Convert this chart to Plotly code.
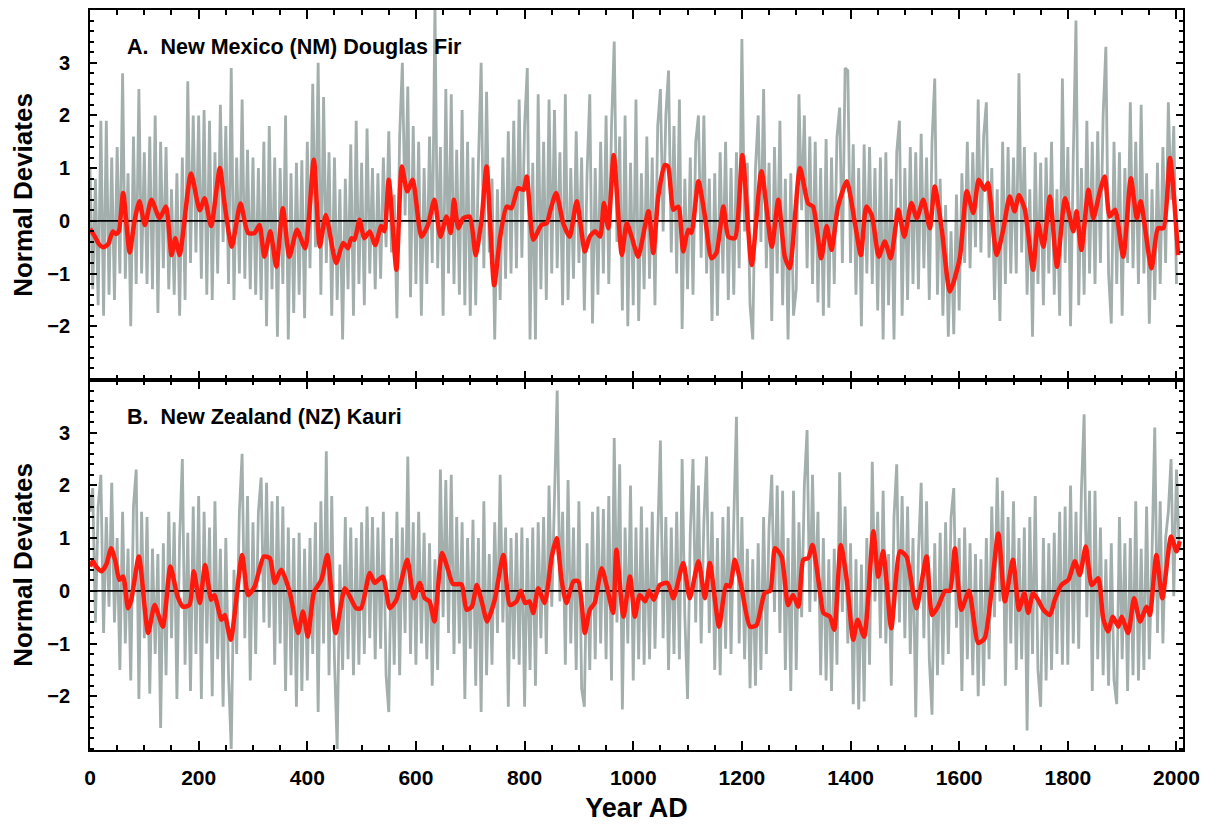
import plotly.graph_objects as go
from plotly.subplots import make_subplots

# ---------------- data ----------------
RING_STEP_YEARS = 5  # annual series sampled every 5 years (peaks / troughs)

NM_RING = [
    1.0,-1.3,0.8,-1.6,1.9,-1.8,1.9,-1.4,1.2,-1.5,1.4,-1.0,2.8,-1.1,0.9,-2.0,1.6,-1.2,2.5,-1.0,
    1.3,-1.2,1.6,-1.3,2.0,-1.75,1.5,-0.9,1.4,-1.3,0.6,-1.4,0.9,-1.8,1.2,-1.5,2.65,-0.8,2.0,-0.6,
    2.0,-1.1,2.1,-1.4,1.9,-1.5,1.3,-1.0,2.2,-0.4,1.8,-1.2,2.9,-1.5,1.2,-1.0,2.3,-1.1,1.35,-1.3,
    1.2,-1.4,1.0,-1.5,1.5,-2.0,1.8,-1.3,1.2,-2.2,1.0,-1.2,2.0,-2.25,0.9,-1.75,1.1,-1.4,1.15,-1.85,
    1.5,-0.9,2.6,-0.5,3.0,-1.4,2.35,-0.8,1.3,-1.8,1.2,-1.5,0.6,-2.25,0.8,-1.3,1.45,-1.8,1.9,-1.2,
    1.1,-1.6,1.75,-1.0,1.0,-1.3,0.9,-1.1,1.2,-0.5,1.7,-0.6,0.5,-1.85,1.6,3.0,0.1,2.55,-1.45,1.8,
    -1.2,1.5,-1.8,1.0,-1.2,1.6,-0.8,4.1,-0.9,1.4,-1.8,2.5,-1.0,2.4,-1.2,1.35,-1.4,2.1,-1.6,1.5,
    -1.8,1.2,-1.6,1.1,3.0,-0.9,2.45,-0.6,0.8,-2.25,0.6,-1.5,1.2,-1.1,1.7,-1.0,1.9,-0.9,2.3,-0.7,
    1.8,2.9,-2.25,1.1,-2.25,2.4,-1.3,1.5,-1.5,2.3,-1.0,2.1,-0.9,1.3,-1.6,2.4,-1.5,1.0,-1.1,1.7,
    -0.8,1.2,-1.7,0.9,2.4,-1.95,1.0,-1.4,1.5,-1.0,2.0,-1.2,1.8,3.4,-0.4,1.6,-1.7,2.0,-2.0,1.1,
    -1.6,2.3,-1.9,0.9,-1.3,1.6,-1.1,1.2,-1.6,1.8,2.5,-0.2,2.0,2.85,-0.6,1.8,-1.0,2.3,-2.05,0.8,
    -1.3,1.2,-1.4,1.5,2.0,-0.7,2.0,-1.0,0.8,-1.9,0.9,-1.8,1.3,-1.0,1.5,-1.5,1.0,-1.4,1.3,-0.9,
    3.45,-0.2,1.1,-1.6,-2.25,1.0,2.0,-0.4,2.5,-0.9,1.1,-1.9,1.4,-1.0,1.9,-1.6,0.8,-2.25,0.9,-1.8,
    -1.3,2.4,0.2,2.0,-0.9,1.6,-1.2,1.5,-1.55,1.0,-1.8,1.55,-1.65,1.2,-1.2,1.6,2.15,-0.8,2.9,2.85,
    -0.8,1.45,-1.4,1.0,-2.0,1.45,-1.0,1.4,-1.2,1.0,-1.7,1.2,-2.25,1.3,-1.6,0.8,-2.25,1.3,1.9,-1.8,
    1.0,-1.5,1.4,-1.2,1.3,-1.3,1.65,-0.9,1.2,-1.5,1.5,2.7,-1.4,0.8,-1.8,0.3,-2.2,-0.2,-2.15,0.5,
    -1.7,0.9,-0.8,1.5,-0.9,1.3,-0.5,2.3,-0.6,1.6,2.25,-0.7,1.0,-1.5,0.6,-1.9,1.5,-1.2,1.4,-1.0,
    1.2,-1.0,2.8,-0.6,1.4,-1.4,0.6,-2.2,1.3,-1.2,1.1,-1.6,1.2,-1.0,1.5,-1.4,0.6,-1.8,2.7,-0.8,
    1.4,-2.0,1.2,3.8,-1.6,1.0,-1.4,1.9,-1.0,1.5,-1.2,1.7,-0.8,2.0,3.3,-1.0,-1.95,1.5,-1.2,1.3,
    -1.8,1.0,-0.8,2.25,-0.9,1.5,-1.2,2.2,-1.0,0.9,-1.95,0.6,-1.5,1.1,-1.2,1.4,-0.8,2.25,0.4,1.8,-1.2,
]

NZ_RING = [
    1.5,1.95,-0.6,1.6,2.2,-0.8,1.4,-0.3,2.05,-0.6,1.0,-1.5,1.5,-1.0,0.8,-1.7,1.6,2.3,-2.05,1.5,
    -0.9,1.4,-1.95,0.8,-1.2,0.7,-2.6,0.9,-1.6,1.5,-0.9,1.3,-2.05,1.0,2.5,-1.4,1.1,-1.9,1.6,-1.2,
    1.8,-2.05,1.5,-1.0,1.2,-2.0,1.7,-1.3,0.8,-2.2,1.0,-1.6,-3.0,0.4,-1.2,1.5,2.6,-0.9,1.8,-1.7,
    1.3,-1.2,1.5,2.15,-0.6,2.05,-0.7,1.7,-1.4,1.8,-1.0,1.6,-1.9,1.2,-1.6,1.0,-2.2,1.1,-1.9,0.8,
    -1.7,1.0,-1.2,1.3,-2.3,1.7,-1.0,2.65,-1.6,1.8,-1.3,-3.0,0.5,-1.5,1.4,-1.3,1.2,-1.6,1.0,-1.4,
    1.3,-1.2,1.6,-0.9,1.4,-1.3,1.2,-1.1,1.5,-1.6,-2.3,1.0,-1.4,1.5,-1.6,1.2,-0.8,2.55,-1.2,1.3,
    -1.4,1.5,-1.0,1.1,-1.3,0.9,-1.8,0.6,-1.5,2.3,-0.5,2.1,-0.8,2.2,-1.2,1.4,-1.0,1.3,-2.05,1.0,
    -1.1,1.35,-1.8,1.0,-2.3,1.7,-1.6,0.7,-1.4,1.3,-0.8,2.2,-0.6,1.2,-2.2,1.0,-1.3,1.1,-1.4,1.2,
    -2.2,1.0,-1.5,1.2,-1.8,1.3,-0.9,1.4,-1.2,2.0,-0.3,1.9,3.8,-0.2,1.5,-1.4,2.1,-1.0,1.2,-1.5,
    1.7,-1.85,-2.2,0.9,-1.5,1.5,-1.3,1.6,-1.0,1.55,-1.3,1.8,-1.7,2.9,-0.6,2.4,-2.25,1.2,-1.0,2.0,
    -1.7,1.2,-1.3,1.6,-1.4,1.2,-1.3,1.5,-1.1,1.0,2.85,-0.9,1.4,-1.5,1.2,-1.2,1.5,-1.3,2.5,-0.5,
    -2.05,1.1,2.5,-0.6,2.0,-1.0,1.3,2.55,-0.8,1.5,-1.5,1.0,-1.6,1.4,-1.1,1.6,-1.2,1.3,3.3,-1.0,
    1.4,-1.3,0.8,-1.85,0.6,-1.8,0.9,-1.5,1.4,-1.2,1.2,2.2,-0.4,2.0,-0.8,1.9,-1.5,1.0,-1.9,1.9,
    -1.5,1.3,-0.5,2.0,3.05,-0.4,2.2,-0.2,1.5,-1.6,1.0,-1.7,0.6,-1.9,0.8,-1.4,2.25,-0.4,1.6,-1.0,
    0.9,-2.15,0.6,-2.25,0.5,-2.1,1.0,-1.4,2.45,-0.2,1.5,-0.9,1.9,-1.0,0.7,-1.8,1.4,2.4,-0.6,1.8,
    -0.9,1.6,-1.2,1.0,-2.4,0.7,2.05,-0.9,1.7,-1.3,-2.35,0.9,-1.6,1.1,-1.4,1.3,-1.2,1.4,1.95,-0.7,
    1.0,-1.9,1.2,-1.3,0.9,-1.6,0.7,-2.0,0.6,-1.8,1.0,-1.3,1.6,-0.5,2.15,-0.2,1.9,-1.8,1.4,-1.0,
    1.7,-1.5,1.0,-1.3,1.2,-2.65,1.4,-1.2,1.8,-1.5,-2.2,1.0,-1.7,0.9,-1.5,1.1,-1.2,1.5,-1.4,1.6,
    -1.4,2.0,-1.0,1.5,-1.1,1.9,3.35,-0.5,1.9,-1.9,1.9,-1.3,1.2,-1.6,0.6,-1.8,0.9,-1.7,-2.15,1.4,
    -1.3,0.9,-1.9,1.0,-1.6,1.7,-1.7,0.8,-1.5,1.6,-1.3,0.7,3.1,-0.8,1.7,-1.0,1.0,1.5,2.5,-0.1,2.3,0.8,
]

NM_SMOOTH_YEARS = [0,3,9,17,24,33,42,48,53,61,73,82,91,101,113,128,140,150,157,165,186,202,211,223,239,248,261,277,291,303,312,321,332,343,355,367,381,396,412,423,434,453,466,475,481,487,496,505,515,525,536,542,550,564,574,584,594,610,622,634,645,656,664,670,678,687,699,710,721,730,744,755,767,776,788,798,804,816,831,841,847,858,871,883,896,911,920,930,939,946,954,964,979,988,997,1009,1028,1037,1046,1058,1064,1074,1083,1092,1101,1107,1120,1132,1144,1153,1166,1175,1187,1201,1218,1236,1255,1267,1279,1288,1307,1322,1331,1346,1356,1365,1377,1393,1408,1419,1429,1439,1452,1463,1474,1488,1499,1512,1522,1534,1546,1555,1568,1583,1601,1614,1626,1636,1647,1653,1669,1681,1693,1702,1710,1721,1736,1745,1755,1767,1780,1795,1810,1816,1825,1838,1847,1859,1868,1877,1887,1902,1916,1927,1934,1954,1966,1976,1988,2003]
NM_SMOOTH = [-0.15,-0.2,-0.3,-0.45,-0.5,-0.45,-0.2,-0.25,-0.2,0.53,-0.6,0.0,0.37,-0.08,0.4,0.05,0.27,-0.65,-0.33,-0.65,0.9,0.2,0.43,-0.1,1.0,0.3,-0.49,0.33,-0.23,-0.23,-0.08,-0.68,-0.2,-0.87,0.24,-0.68,-0.17,-0.52,1.16,-0.49,0.11,-0.8,-0.42,-0.52,-0.33,-0.36,0.02,-0.33,-0.2,-0.46,-0.1,-0.2,0.78,-0.93,1.03,0.56,0.78,-0.3,-0.08,0.4,-0.3,0.08,-0.23,0.4,-0.14,0.05,0.08,-0.65,0.05,1.03,-1.22,-0.3,0.27,0.24,0.62,0.59,0.84,-0.36,-0.08,-0.04,0.18,0.53,-0.04,-0.3,0.37,-0.58,-0.3,-0.2,-0.3,0.34,-0.14,1.25,-0.65,-0.04,-0.3,-0.68,0.18,-0.61,0.46,1.06,1.03,0.21,0.27,-0.58,-0.17,-0.23,0.75,0.08,-0.71,-0.61,0.27,-0.3,-0.33,1.25,-0.84,0.94,-0.49,0.4,-0.68,-0.9,1.0,0.33,0.27,-0.71,-0.1,-0.55,0.27,0.75,-0.04,-0.65,0.27,0.11,-0.68,-0.39,-0.71,0.21,-0.3,0.34,0.05,0.4,-0.14,0.65,-0.17,-1.34,-0.71,0.56,0.15,0.78,0.59,0.72,-0.65,-0.17,0.46,0.18,0.49,0.21,-0.93,-0.04,-0.49,0.46,-0.87,0.43,-0.2,0.18,-0.55,0.59,0.05,0.56,0.84,0.08,0.21,-0.68,0.81,0.05,0.37,-0.9,-0.14,-0.14,1.19,-0.65]

NZ_SMOOTH_YEARS = [0,5,12,21,30,39,47,54,61,70,76,90,107,119,134,148,161,171,183,191,202,212,223,229,242,248,259,280,291,303,320,331,340,352,368,383,392,401,412,426,437,452,469,478,490,499,515,524,539,552,564,584,596,607,616,625,634,648,659,668,684,693,703,712,721,731,745,761,773,785,793,801,809,816,825,837,850,859,868,877,890,899,911,920,929,942,954,963,969,982,994,1003,1012,1022,1029,1038,1049,1063,1074,1092,1104,1120,1132,1141,1158,1171,1178,1187,1199,1215,1227,1242,1252,1261,1273,1285,1294,1304,1313,1322,1330,1344,1350,1362,1370,1382,1393,1405,1413,1425,1442,1451,1460,1475,1491,1503,1521,1540,1550,1561,1574,1583,1592,1604,1618,1635,1647,1672,1684,1699,1710,1720,1727,1736,1745,1755,1767,1776,1788,1801,1813,1822,1833,1844,1856,1865,1874,1883,1893,1899,1911,1922,1933,1945,1951,1963,1974,1990,2000,2006]
NZ_SMOOTH = [0.46,0.56,0.45,0.37,0.5,0.81,0.55,0.21,0.27,-0.33,-0.17,0.65,-0.8,-0.27,-0.68,0.46,-0.1,-0.3,-0.27,0.37,-0.23,0.49,-0.17,-0.08,-0.55,-0.46,-0.93,0.68,-0.08,0.08,0.65,0.62,0.15,0.4,-0.04,-0.8,-0.39,-0.87,-0.04,0.21,0.68,-0.8,0.05,-0.1,-0.33,-0.33,0.34,0.15,0.27,-0.33,-0.17,0.59,-0.14,0.15,-0.14,-0.2,-0.58,0.72,0.4,0.13,0.12,-0.36,-0.3,0.11,-0.2,-0.58,-0.17,0.68,-0.27,-0.2,0.0,-0.23,-0.2,-0.42,0.05,-0.23,0.65,1.0,0.21,-0.23,0.18,0.18,-0.8,-0.36,-0.23,0.43,-0.04,-0.42,0.78,-0.49,0.27,-0.49,-0.08,-0.2,0.0,-0.17,0.11,0.15,-0.14,0.53,-0.14,0.56,-0.14,0.53,-0.68,0.11,0.08,0.59,0.08,-0.68,-0.65,-0.04,0.0,0.81,0.65,-0.27,-0.08,-0.3,0.59,0.62,0.87,-0.04,-0.42,-0.49,-0.74,0.87,0.21,-0.93,-0.55,-0.87,1.13,0.27,0.75,-0.71,0.75,0.65,-0.33,0.65,-0.46,-0.3,0.0,0.0,0.81,-0.36,0.0,-0.99,-0.9,1.09,-0.2,0.59,-0.36,-0.04,-0.42,-0.04,-0.17,-0.36,-0.46,-0.17,0.11,0.21,0.56,0.3,0.84,0.11,0.24,-0.52,-0.77,-0.49,-0.68,-0.49,-0.8,-0.14,-0.58,-0.3,-0.46,0.68,-0.14,1.03,0.75,0.94]

PANEL_TITLES = ["A.  New Mexico (NM) Douglas Fir", "B.  New Zealand (NZ) Kauri"]
X_TICKS = [0, 200, 400, 600, 800, 1000, 1200, 1400, 1600, 1800, 2000]
Y_TICKS = [-2, -1, 0, 1, 2, 3]
X_RANGE = [0, 2012]
Y_RANGE = [-3.02, 4.0]

# ---------------- styling ----------------
GRAY = "#a3afac"
RED = "#ff1a0d"
FONT = "Liberation Sans, Arial, Helvetica, sans-serif"

fig = make_subplots(rows=2, cols=1, shared_xaxes=False, vertical_spacing=0)

panels = [
    (NM_RING, NM_SMOOTH_YEARS, NM_SMOOTH),
    (NZ_RING, NZ_SMOOTH_YEARS, NZ_SMOOTH),
]
for i, (ring, sy, sv) in enumerate(panels, start=1):
    ring_years = [k * RING_STEP_YEARS for k in range(len(ring))]
    fig.add_trace(go.Scatter(x=ring_years, y=ring, mode="lines",
                             line=dict(color=GRAY, width=2.8),
                             showlegend=False, hoverinfo="skip"), row=i, col=1)
    fig.add_trace(go.Scatter(x=X_RANGE, y=[0, 0], mode="lines",
                             line=dict(color="black", width=1.6),
                             showlegend=False, hoverinfo="skip"), row=i, col=1)
    fig.add_trace(go.Scatter(x=sy, y=sv, mode="lines",
                             line=dict(color=RED, width=4.5, shape="spline", smoothing=0.6),
                             showlegend=False, hoverinfo="skip"), row=i, col=1)

axis_common = dict(showline=True, linecolor="black", linewidth=1.8, mirror="allticks",
                   ticks="inside", tickcolor="black", tickwidth=1.8, showgrid=False,
                   zeroline=False, automargin=False)

for i in (1, 2):
    fig.update_xaxes(range=X_RANGE, tickvals=X_TICKS, ticklen=9,
                     minor=dict(dtick=50, tick0=0, ticklen=5, ticks="inside", tickcolor="black",
                                tickwidth=1.5, showgrid=False),
                     showticklabels=(i == 2),
                     tickfont=dict(family=FONT, size=21, color="black", weight="bold"),
                     ticklabelstandoff=8,
                     row=i, col=1, **axis_common)
    fig.update_yaxes(range=Y_RANGE, tickvals=Y_TICKS, ticklen=7,
                     minor=dict(dtick=0.2, tick0=0, ticklen=4, ticks="inside", tickcolor="black",
                                tickwidth=1.5, showgrid=False),
                     tickfont=dict(family=FONT, size=20, color="black", weight="bold"),
                     ticklabelstandoff=14,
                     title=dict(text="Normal Deviates", standoff=12,
                                font=dict(family=FONT, size=26, color="black", weight="bold")),
                     row=i, col=1, **axis_common)

fig.update_xaxes(title=dict(text="Year AD", standoff=10,
                            font=dict(family=FONT, size=27, color="black", weight="bold")),
                 row=2, col=1)

for i, t in enumerate(PANEL_TITLES, start=1):
    xr = "x domain" if i == 1 else "x2 domain"
    yr = "y domain" if i == 1 else "y2 domain"
    fig.add_annotation(text=t, xref=xr, yref=yr, x=0.032, y=0.90, xanchor="left",
                       yanchor="middle", showarrow=False,
                       font=dict(family=FONT, size=21.5, color="black", weight="bold"))

# the page adds an 8 px body margin, so the figure is 8 px smaller and shifted
fig.update_layout(width=1200, height=825, margin=dict(l=82, r=25, t=2, b=83),
                  plot_bgcolor="white", paper_bgcolor="white", showlegend=False)

fig.write_html("out.html")
